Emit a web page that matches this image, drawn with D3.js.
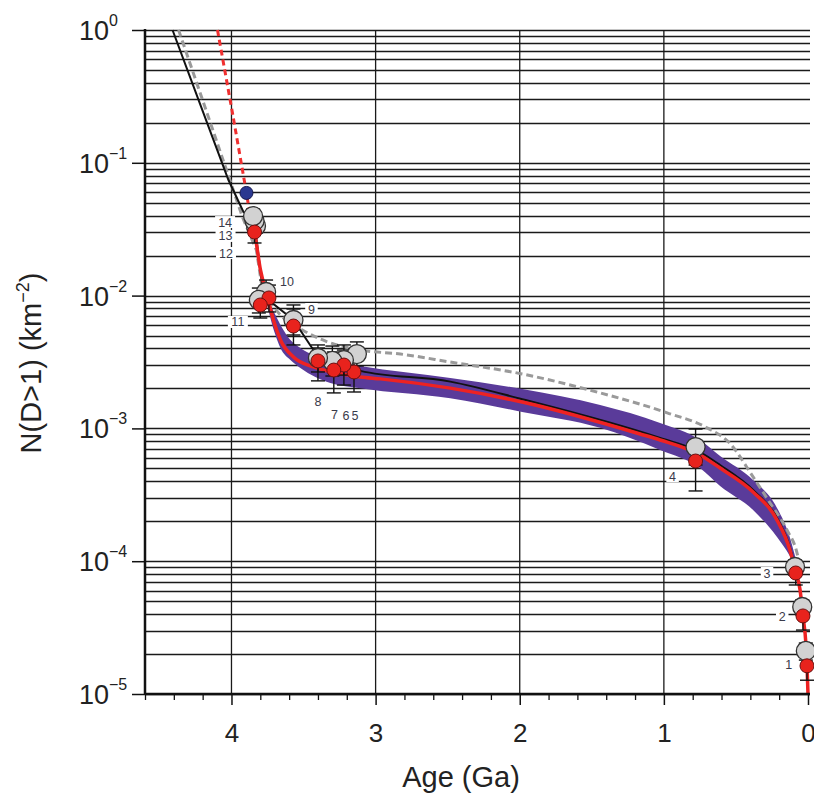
<!DOCTYPE html>
<html><head><meta charset="utf-8">
<script src="https://cdn.jsdelivr.net/npm/d3@7"></script>
<style>
body{margin:0;background:#fff}
text{font-family:"Liberation Sans",Arial,Helvetica,sans-serif}
</style>
</head><body>
<svg id="c" width="814" height="793"></svg>
<script>
// ---------- data ----------
const yTickValues = [1, 1e-1, 1e-2, 1e-3, 1e-4, 1e-5];
const yTickExponents = ["0", "\u22121", "\u22122", "\u22123", "\u22124", "\u22125"];
const xTickValues = [4, 3, 2, 1, 0];

// gray sample points (labels 1..14)
const grayLabels = ["1","2","3","4","5","6","7","8","9","10","11","12","13","14"];
const grayAge = [0.015, 0.04, 0.09, 0.78, 3.13, 3.22, 3.30, 3.40, 3.57, 3.76, 3.81, 3.83, 3.84, 3.85];
const grayN   = [2.11e-5, 4.52e-5, 9.04e-5, 7.24e-4, 3.63e-3, 3.27e-3, 3.22e-3, 3.39e-3, 6.55e-3, 1.064e-2, 9.27e-3, 3.34e-2, 3.65e-2, 3.97e-2];
const grayLo  = [1.80e-5, 3.94e-5, 7.87e-5, 5.30e-4, 2.95e-3, 2.52e-3, 2.48e-3, 2.66e-3, 5.05e-3, 8.65e-3, 7.40e-3, 2.96e-2, 3.23e-2, 3.52e-2];
const grayHi  = [2.42e-5, 5.11e-5, 1.02e-4, 9.89e-4, 4.48e-3, 4.25e-3, 4.17e-3, 4.25e-3, 8.50e-3, 1.31e-2, 1.14e-2, 3.77e-2, 4.11e-2, 4.49e-2];

// red (recalibrated) points
const redLabels = ["1","2","3","4","5","6","7","8","9","10","11","13"];
const redAge = [0.007, 0.035, 0.085, 0.78, 3.15, 3.22, 3.29, 3.40, 3.57, 3.74, 3.80, 3.84];
const redN   = [1.63e-5, 3.87e-5, 8.15e-5, 5.68e-4, 2.66e-3, 3.00e-3, 2.75e-3, 3.22e-3, 5.90e-3, 9.60e-3, 8.50e-3, 3.01e-2];
const redLo  = [1.27e-5, 3.03e-5, 6.62e-5, 3.38e-4, 1.88e-3, 2.12e-3, 1.85e-3, 2.28e-3, 4.25e-3, 7.53e-3, 6.78e-3, 2.49e-2];
const redHi  = [1.97e-5, 4.84e-5, 9.69e-5, 7.50e-4, 3.57e-3, 3.89e-3, 3.76e-3, 4.03e-3, 7.93e-3, 1.20e-2, 1.05e-2, 3.58e-2];

// blue point
const blueAge = [3.896];
const blueN = [0.0593];

// black chronology curve
const blackAge = [4.409, 4.215, 4.021, 3.917, 3.841, 3.778, 3.570, 3.404, 3.244, 3.106, 2.482, 1.983, 1.026, 0.749, 0.610, 0.381, 0.215, 0.125, 0.090];
const blackN   = [1.0, 0.272, 0.0742, 0.0426, 0.0358, 0.00993, 0.00655, 0.00351, 0.00305, 0.00271, 0.00225, 0.00166, 0.000847, 0.000664, 0.000530, 0.000344, 0.000212, 0.000126, 0.0000904];

// red fit curve
const redLineAge = [3.854, 3.841, 3.799, 3.750, 3.709, 3.660, 3.570, 3.432, 3.265, 3.106, 2.967, 2.482, 1.983, 1.165, 1.026, 0.749, 0.610, 0.381, 0.215, 0.125, 0.090, 0.055, 0.035, 0.014, 0.007, 0.0];
const redLineN   = [0.0340, 0.0301, 0.0156, 0.00975, 0.00655, 0.00463, 0.00345, 0.00290, 0.00261, 0.00244, 0.00236, 0.00201, 0.00158, 0.000908, 0.000818, 0.000631, 0.000503, 0.000332, 0.000204, 0.000121, 0.0000859, 0.0000607, 0.0000387, 0.0000234, 0.0000165, 0.00001];

// uncertainty band
const bandAge = [3.757, 3.730, 3.695, 3.660, 3.591, 3.522, 3.418, 3.314, 3.106, 2.482, 1.983, 1.442, 1.026, 0.749, 0.610, 0.381, 0.215, 0.125, 0.083];
const bandHi  = [0.00959, 0.00850, 0.00714, 0.00601, 0.00463, 0.00403, 0.00351, 0.00327, 0.00295, 0.00240, 0.00198, 0.00150, 0.00110, 0.000818, 0.000620, 0.000409, 0.000252, 0.000150, 0.000102];
const bandLo  = [0.00927, 0.00678, 0.00505, 0.00403, 0.00327, 0.00285, 0.00244, 0.00220, 0.00201, 0.00169, 0.00133, 0.00101, 0.000688, 0.000503, 0.000368, 0.000243, 0.000152, 0.000109, 0.0000889];

// gray dashed curve
const dashAge = [4.367, 4.146, 3.924, 3.827, 3.785, 3.660, 3.508, 3.334, 3.106, 2.828, 2.482, 1.983, 1.442, 0.977, 0.700, 0.541, 0.381, 0.263, 0.146, 0.076, 0.055];
const dashN   = [1.0, 0.1995, 0.0391, 0.0220, 0.0110, 0.00714, 0.00551, 0.00448, 0.00389, 0.00363, 0.00316, 0.00257, 0.00185, 0.00131, 0.00101, 0.00077, 0.000431, 0.000274, 0.000172, 0.000115, 0.0000904];

// red dotted curve
const dotAge = [4.097, 3.993, 3.896, 3.875];
const dotN   = [1.0, 0.237, 0.0593, 0.0426];

// ---------- layout ----------
const L = 145, R = 808, T = 30, B = 694;
const labelOffset = {"14":[-28,6],"13":[-29,15],"12":[-30,27],"11":[-21,22],"10":[21,-11],"9":[18,-11],
  "8":[0,44],"7":[2,54],"6":[2,55],"5":[-2,61],"4":[-23,29],"3":[-28,6],"2":[-20,10],"1":[-17,14]};

const svg = d3.select("#c");
const x = d3.scaleLinear().domain([4.6, 0]).range([L, R]);
const y = d3.scaleLog().domain([1e-5, 1]).range([B, T]);

// horizontal grid
const gridVals = [];
for (let e = -5; e <= -1; e++) for (let k = 1; k <= 9; k++) gridVals.push(k * Math.pow(10, e));
gridVals.push(1);
svg.append("g").selectAll("line").data(gridVals).join("line")
  .attr("x1", L).attr("x2", R + 2)
  .attr("y1", d => Math.round(y(d)) + 0.5).attr("y2", d => Math.round(y(d)) + 0.5)
  .attr("stroke", "#1a1a1a").attr("stroke-width", 1.3);
// vertical grid
svg.append("g").selectAll("line").data([4, 3, 2, 1]).join("line")
  .attr("x1", d => x(d)).attr("x2", d => x(d)).attr("y1", T).attr("y2", B)
  .attr("stroke", "#1a1a1a").attr("stroke-width", 1.3);

// point labels with white boxes
const gLab = svg.append("g");
grayLabels.forEach((lab, i) => {
  const o = labelOffset[lab];
  const cx = x(grayAge[i]) + o[0], cy = y(grayN[i]) + o[1];
  const w = lab.length * 7.5 + 5;
  gLab.append("rect").attr("x", cx - w / 2).attr("y", cy - 6).attr("width", w).attr("height", 12).attr("fill", "#fff");
  gLab.append("text").attr("x", cx).attr("y", cy + 4.5).attr("text-anchor", "middle")
    .attr("font-size", 12.5).attr("fill", "#3a3a4a").text(lab);
});

// band
const band = d3.area().x((d, i) => x(bandAge[i])).y0((d, i) => y(bandLo[i])).y1((d, i) => y(bandHi[i])).curve(d3.curveMonotoneX);
svg.append("path").attr("d", band(bandAge)).attr("fill", "#5a3b9a");

// a curve: straight (log-linear) segments for ages >= split, smooth afterwards
function curvePath(ages, vals, split) {
  const pts = ages.map((a, i) => [x(a), y(vals[i])]);
  let k = ages.findIndex(a => a < split);
  if (k < 0) return d3.line().curve(d3.curveLinear)(pts);
  if (k <= 1) return d3.line().curve(d3.curveMonotoneX)(pts);
  const head = pts.slice(0, k);
  const tail = pts.slice(k - 1);
  return d3.line().curve(d3.curveLinear)(head) + d3.line().curve(d3.curveMonotoneX)(tail).replace(/^M/, "L");
}

svg.append("path").attr("d", curvePath(dashAge, dashN, 3.7)).attr("fill", "none")
  .attr("stroke", "#9a9a9a").attr("stroke-width", 3).attr("stroke-dasharray", "7,4");
svg.append("path").attr("d", curvePath(blackAge, blackN, 3.39)).attr("fill", "none")
  .attr("stroke", "#111").attr("stroke-width", 2);
svg.append("path").attr("d", curvePath(dotAge, dotN, -1)).attr("fill", "none")
  .attr("stroke", "#f03030").attr("stroke-width", 3).attr("stroke-dasharray", "6,4");
svg.append("path").attr("d", curvePath(redLineAge, redLineN, 3.85)).attr("fill", "none")
  .attr("stroke", "#ee2222").attr("stroke-width", 3.5);

// error bars
function errBars(ages, lo, hi) {
  const g = svg.append("g").attr("stroke", "#111").attr("stroke-width", 1.4);
  ages.forEach((a, i) => {
    const cx = x(a);
    g.append("line").attr("x1", cx).attr("x2", cx).attr("y1", y(lo[i])).attr("y2", y(hi[i]));
    [lo[i], hi[i]].forEach(v => g.append("line").attr("x1", cx - 7).attr("x2", cx + 7).attr("y1", y(v)).attr("y2", y(v)));
  });
}
errBars(grayAge, grayLo, grayHi);
errBars(redAge, redLo, redHi);

// gray points
svg.append("g").selectAll("circle").data(grayAge).join("circle")
  .attr("cx", (d, i) => x(d)).attr("cy", (d, i) => y(grayN[i])).attr("r", 9.5)
  .attr("fill", "#d2d2d2").attr("stroke", "#333").attr("stroke-width", 1.3);
// red points
svg.append("g").selectAll("circle").data(redAge).join("circle")
  .attr("cx", (d, i) => x(d)).attr("cy", (d, i) => y(redN[i])).attr("r", 7)
  .attr("fill", "#e8231d").attr("stroke", "#6a1010").attr("stroke-width", 1);
// blue point
svg.append("g").selectAll("circle").data(blueAge).join("circle")
  .attr("cx", (d, i) => x(d)).attr("cy", (d, i) => y(blueN[i])).attr("r", 6.5)
  .attr("fill", "#2b3890").attr("stroke", "#151a50").attr("stroke-width", 1);

// x axis
const xMinor = d3.range(0.2, 4.61, 0.2).filter(v => Math.abs(v - Math.round(v)) > 0.01);
svg.append("g").attr("transform", `translate(0,${B})`)
  .call(d3.axisBottom(x).tickValues(xMinor).tickSize(6).tickFormat(""))
  .call(g => g.select(".domain").remove())
  .call(g => g.selectAll("line").attr("stroke", "#111").attr("stroke-width", 1.3));
svg.append("g").attr("transform", `translate(0,${B})`)
  .call(d3.axisBottom(x).tickValues(xTickValues).tickSize(11).tickPadding(19).tickFormat(d3.format("d")))
  .call(g => g.select(".domain").remove())
  .call(g => g.selectAll("line").attr("stroke", "#111").attr("stroke-width", 1.5))
  .call(g => g.selectAll("text").attr("font-size", 26).attr("fill", "#222").attr("font-family", "Liberation Sans, Arial"));
svg.append("line").attr("x1", L).attr("x2", R + 2).attr("y1", B).attr("y2", B).attr("stroke", "#111").attr("stroke-width", 2.5);

// y axis
svg.append("g").attr("transform", `translate(${L},0)`)
  .call(d3.axisLeft(y).tickValues(yTickValues).tickSize(13).tickFormat(""))
  .call(g => g.select(".domain").remove())
  .call(g => g.selectAll("line").attr("stroke", "#111").attr("stroke-width", 1.5));
svg.append("line").attr("x1", L).attr("x2", L).attr("y1", T - 1).attr("y2", B + 1).attr("stroke", "#111").attr("stroke-width", 2.5);
const gy = svg.append("g");
yTickValues.forEach((v, i) => {
  gy.append("text").attr("x", 109).attr("y", y(v) + 10).attr("text-anchor", "end")
    .attr("font-size", 27).attr("fill", "#222").text("10");
  gy.append("text").attr("x", 109).attr("y", y(v) - 4).attr("text-anchor", "start")
    .attr("font-size", 16).attr("fill", "#222").text(yTickExponents[i]);
});

// axis titles
svg.append("text").attr("x", 461).attr("y", 787).attr("text-anchor", "middle")
  .attr("font-size", 29).attr("fill", "#222").text("Age (Ga)");
const yt = svg.append("text").attr("transform", "translate(41,363) rotate(-90)").attr("text-anchor", "middle")
  .attr("font-size", 29).attr("fill", "#222");
yt.append("tspan").text("N(D>1) (km");
yt.append("tspan").attr("font-size", 18).attr("dy", -12).text("\u22122");
yt.append("tspan").attr("dy", 12).text(")");
</script>
</body></html>
